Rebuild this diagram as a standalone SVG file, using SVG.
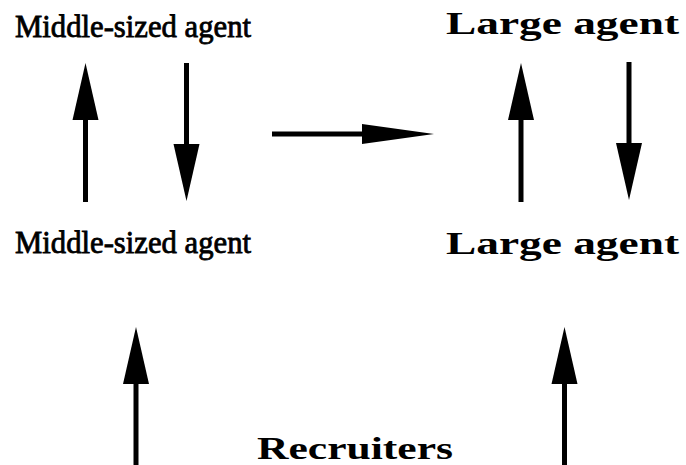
<svg xmlns="http://www.w3.org/2000/svg" width="686" height="465" viewBox="0 0 686 465">
<style>
.mid{font-family:"Liberation Serif","Times New Roman",serif;font-size:31px;fill:#000;stroke:#000;stroke-width:0.8px}
.big{font-family:"Liberation Serif","Times New Roman",serif;font-size:32px;font-weight:bold;fill:#000}
.shaft{stroke:#000;stroke-width:5;fill:none}
</style>
<defs>
<marker id="hv" markerUnits="userSpaceOnUse" markerWidth="58" markerHeight="27" refX="0" refY="13" orient="auto" overflow="visible">
<path d="M0,0 L57,13 L0,26 Z" fill="#000"/>
</marker>
<marker id="hh" markerUnits="userSpaceOnUse" markerWidth="73" markerHeight="21" refX="0" refY="10" orient="auto" overflow="visible">
<path d="M0,0 L72,10 L0,20 Z" fill="#000"/>
</marker>
</defs>
<rect width="686" height="465" fill="#fff"/>
<g id="mid-top"><text class="mid" x="15" y="37" textLength="236" lengthAdjust="spacingAndGlyphs">Middle-sized agent</text></g>
<g id="large-top"><text class="big" x="446" y="34" textLength="233" lengthAdjust="spacingAndGlyphs">Large agent</text></g>
<g id="mid-bottom"><text class="mid" x="15" y="253" textLength="236" lengthAdjust="spacingAndGlyphs">Middle-sized agent</text></g>
<g id="large-bottom"><text class="big" x="446" y="254" textLength="233" lengthAdjust="spacingAndGlyphs">Large agent</text></g>
<g id="recruiters"><text class="big" x="257" y="459" font-size="33" textLength="196" lengthAdjust="spacingAndGlyphs">Recruiters</text></g>
<g id="connectors">
<line class="shaft" x1="85.5" y1="202" x2="85.5" y2="120" marker-end="url(#hv)"/>
<line class="shaft" x1="186.5" y1="63" x2="186.5" y2="144" marker-end="url(#hv)"/>
<line class="shaft" x1="521" y1="202" x2="521" y2="120" marker-end="url(#hv)"/>
<line class="shaft" x1="629" y1="62" x2="629" y2="143" marker-end="url(#hv)"/>
<line class="shaft" x1="272" y1="134" x2="362" y2="134" stroke-width="4" marker-end="url(#hh)"/>
<line class="shaft" x1="136" y1="465" x2="136" y2="384" marker-end="url(#hv)"/>
<line class="shaft" x1="564.5" y1="465" x2="564.5" y2="384" marker-end="url(#hv)"/>
</g>
</svg>
